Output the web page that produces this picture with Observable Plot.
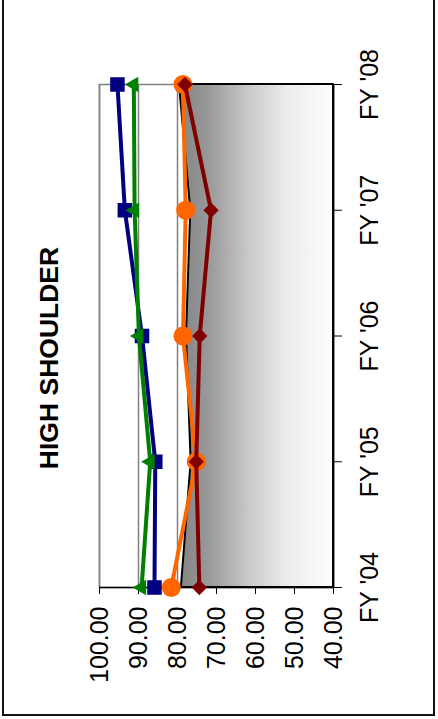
<!DOCTYPE html>
<html><head><meta charset="utf-8">
<script src="https://cdn.jsdelivr.net/npm/d3@7"></script>
<script src="https://cdn.jsdelivr.net/npm/@observablehq/plot@0.6"></script>
<style>
html,body{margin:0;padding:0;background:#fff;}
#wrap{position:relative;width:438px;height:719px;overflow:hidden;}
#border{position:absolute;left:2px;top:0;width:433px;height:716px;box-sizing:border-box;border:2px solid #111;border-top:none;pointer-events:none;}
svg{display:block}
</style></head><body><div id="wrap"><div id="border"></div></div>
<script>
const title = "HIGH SHOULDER";
const years = [2004, 2005, 2006, 2007, 2008];
const categories = ["FY '04", "FY '05", "FY '06", "FY '07", "FY '08"];
const valueTicks = [100, 90, 80, 70, 60, 50, 40];
const navySeries = [85.9, 85.7, 89.1, 93.5, 95.4];
const greenSeries = [89.2, 87.0, 89.9, 91.0, 91.2];
const orangeSeries = [81.6, 75.2, 78.6, 77.9, 78.6];
const maroonSeries = [74.4, 75.2, 74.3, 71.4, 78.1];
const areaSeries = [79.0, 76.5, 77.7, 76.6, 79.5];

const rows = (vals) => years.map((y, i) => ({year: y, value: vals[i]}));
const font = "'Liberation Sans', Arial, sans-serif";

const chart = Plot.plot({
  width: 438,
  height: 719,
  marginLeft: 99,
  marginRight: 105,
  marginTop: 84,
  marginBottom: 132,
  style: {fontFamily: font, fontSize: "25px", background: "transparent", color: "black"},
  x: {domain: [100, 40], axis: null},
  y: {domain: [2004, 2008], axis: null},
  marks: [
    Plot.gridX(valueTicks, {stroke: "#808080", strokeOpacity: 1, strokeWidth: 1.5}),
    Plot.frame({stroke: "#808080", strokeWidth: 1.5}),
    Plot.areaX(rows(areaSeries), {y: "year", x1: 40, x2: "value", fill: "url(#areaGrad)", stroke: "black", strokeWidth: 2}),
    Plot.ruleY([2004], {stroke: "black", strokeWidth: 1.5}),
    Plot.ruleX([40], {stroke: "black", strokeWidth: 1.5}),
    Plot.axisX({ticks: valueTicks, tickFormat: d => d.toFixed(2), tickRotate: -90, tickSize: 7, tickPadding: 12, label: null, fontSize: 25, stroke: "black"}),
    Plot.axisY({anchor: "right", ticks: years, tickFormat: d => categories[years.indexOf(d)], tickRotate: -90, tickSize: 8, tickPadding: 28, lineAnchor: "middle", label: null, fontSize: 25}),
    Plot.line(rows(navySeries), {x: "value", y: "year", stroke: "#000080", strokeWidth: 4}),
    Plot.dot(rows(navySeries), {x: "value", y: "year", symbol: "square", r: 8.2, fill: "#000080"}),
    Plot.line(rows(greenSeries), {x: "value", y: "year", stroke: "#008000", strokeWidth: 4}),
    Plot.dot(rows(greenSeries), {x: "value", y: "year", symbol: "triangle", r: 5.8, rotate: -90, fill: "#008000"}),
    Plot.line(rows(orangeSeries), {x: "value", y: "year", stroke: "#ff6600", strokeWidth: 4}),
    Plot.dot(rows(orangeSeries), {x: "value", y: "year", symbol: "circle", r: 9.5, fill: "#ff6600"}),
    Plot.line(rows(maroonSeries), {x: "value", y: "year", stroke: "#800000", strokeWidth: 4}),
    Plot.dot(rows(maroonSeries), {x: "value", y: "year", symbol: "diamond2", r: 6.9, fill: "#800000"}),
    Plot.text([title], {frameAnchor: "left", dx: -50, dy: 22, rotate: -90, fontSize: 26.5, fontWeight: "bold", fill: "black", textAnchor: "middle"})
  ]
});

const svgNS = "http://www.w3.org/2000/svg";
const defs = document.createElementNS(svgNS, "defs");
defs.innerHTML = '<linearGradient id="areaGrad" x1="0" x2="1" y1="0" y2="0">' +
  '<stop offset="0" stop-color="#838383"/>' +
  '<stop offset="0.2" stop-color="#9a9a9a"/>' +
  '<stop offset="0.45" stop-color="#c8c8c8"/>' +
  '<stop offset="0.7" stop-color="#ececec"/>' +
  '<stop offset="1" stop-color="#fdfdfd"/>' +
  '</linearGradient>';
chart.insertBefore(defs, chart.firstChild);
document.getElementById("wrap").insertBefore(chart, document.getElementById("border"));
</script>
</body></html>
